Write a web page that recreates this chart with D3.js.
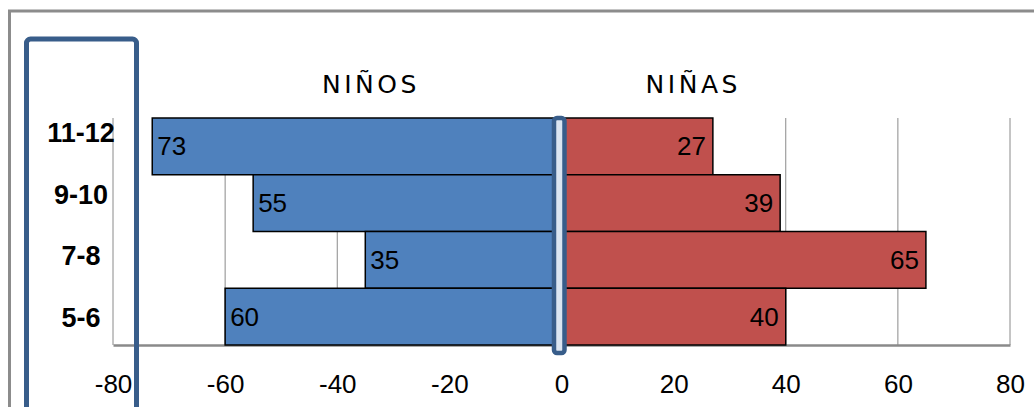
<!DOCTYPE html>
<html>
<head>
<meta charset="utf-8">
<script src="https://cdn.jsdelivr.net/npm/d3@7"></script>
<style>
  html, body { margin: 0; padding: 0; background: #ffffff; }
  svg { display: block; }
</style>
</head>
<body>
<svg id="chart" width="1034" height="407"></svg>
<script>
// Age groups, top to bottom
const ageGroups = ["11-12", "9-10", "7-8", "5-6"];
// Boys (drawn to the left) and girls (drawn to the right)
const boys = [73, 55, 35, 60];
const girls = [27, 39, 65, 40];
// Axis ticks
const tickValues = [-80, -60, -40, -20, 0, 20, 40, 60, 80];
const seriesTitles = ["NIÑOS", "NIÑAS"];

const svg = d3.select("#chart");
const W = 1034, H = 407;

const x = d3.scaleLinear().domain([-80, 80]).range([113, 1010]);
const y = d3.scaleBand().domain(ageGroups).range([118, 345]).padding(0);
// Category captions sit in their own column with slightly wider spacing
const yLabel = d3.scalePoint().domain(ageGroups).range([132.5, 317.5]);

// Outer chart frame
svg.append("rect")
  .attr("x", 9.5).attr("y", 11)
  .attr("width", W + 20).attr("height", H + 20)
  .attr("fill", "#ffffff")
  .attr("stroke", "#8c8c8c").attr("stroke-width", 3);

// Vertical gridlines
svg.append("g").selectAll("line")
  .data(tickValues)
  .join("line")
  .attr("x1", d => x(d)).attr("x2", d => x(d))
  .attr("y1", y.range()[0]).attr("y2", y.range()[1])
  .attr("stroke", "#8a8a8a").attr("stroke-width", 1);

// Bottom axis
const axis = d3.axisBottom(x).tickValues(tickValues).tickSize(0).tickPadding(0)
  .tickFormat(d => d3.format("d")(d).replace("−", "-"));
const gx = svg.append("g").attr("transform", `translate(0,${y.range()[1]})`).call(axis);
gx.select(".domain").attr("stroke", "#8a8a8a").attr("stroke-width", 2.5);
gx.selectAll("text")
  .attr("dy", null).attr("y", 48)
  .attr("fill", "#000")
  .style("font-family", "'Liberation Sans', Arial, sans-serif")
  .style("font-size", "26px");

// Boys' bars
const rows = ageGroups.map((g, i) => ({ group: g, boy: boys[i], girl: girls[i] }));
svg.append("g").selectAll("rect")
  .data(rows)
  .join("rect")
  .attr("x", d => x(-d.boy)).attr("y", d => y(d.group))
  .attr("width", d => x(0) - x(-d.boy)).attr("height", y.bandwidth())
  .attr("fill", "#4f81bd").attr("stroke", "#000").attr("stroke-width", 1.5);

// Girls' bars
svg.append("g").selectAll("rect")
  .data(rows)
  .join("rect")
  .attr("x", x(0)).attr("y", d => y(d.group))
  .attr("width", d => x(d.girl) - x(0)).attr("height", y.bandwidth())
  .attr("fill", "#c0504d").attr("stroke", "#000").attr("stroke-width", 1.5);

const labelFont = "'Liberation Sans', Arial, sans-serif";

// Value labels
svg.append("g").selectAll("text")
  .data(rows)
  .join("text")
  .attr("x", d => x(-d.boy) + 5)
  .attr("y", d => y(d.group) + y.bandwidth() / 2 + 9)
  .attr("text-anchor", "start")
  .style("font-family", labelFont).style("font-size", "26px")
  .text(d => d.boy);

svg.append("g").selectAll("text")
  .data(rows)
  .join("text")
  .attr("x", d => x(d.girl) - 7)
  .attr("y", d => y(d.group) + y.bandwidth() / 2 + 9)
  .attr("text-anchor", "end")
  .style("font-family", labelFont).style("font-size", "26px")
  .text(d => d.girl);

// Series titles above each side
svg.append("g").selectAll("text")
  .data(seriesTitles)
  .join("text")
  .attr("x", (d, i) => i === 0 ? x(-34) : x(23.5))
  .attr("y", 93)
  .attr("text-anchor", "middle")
  .style("font-family", "'DejaVu Sans', sans-serif")
  .style("font-size", "25px")
  .style("letter-spacing", "3.5px")
  .text(d => d);

// Centre divider marker
svg.append("rect")
  .attr("x", x(0) - 7.5).attr("y", 118)
  .attr("width", 10.5).attr("height", 235)
  .attr("rx", 3).attr("ry", 3)
  .attr("fill", "#dbe5f1")
  .attr("stroke", "#385d8a").attr("stroke-width", 4.5);

// Highlight box around the age-group column
svg.append("rect")
  .attr("x", 26.5).attr("y", 39)
  .attr("width", 110).attr("height", 420)
  .attr("rx", 4).attr("ry", 4)
  .attr("fill", "none")
  .attr("stroke", "#385d8a").attr("stroke-width", 5);

// Age group captions
svg.append("g").selectAll("text")
  .data(ageGroups)
  .join("text")
  .attr("x", 81)
  .attr("y", d => yLabel(d) + 9.5)
  .attr("text-anchor", "middle")
  .style("font-family", labelFont)
  .style("font-weight", "bold")
  .style("font-size", "27px")
  .text(d => d);
</script>
</body>
</html>
